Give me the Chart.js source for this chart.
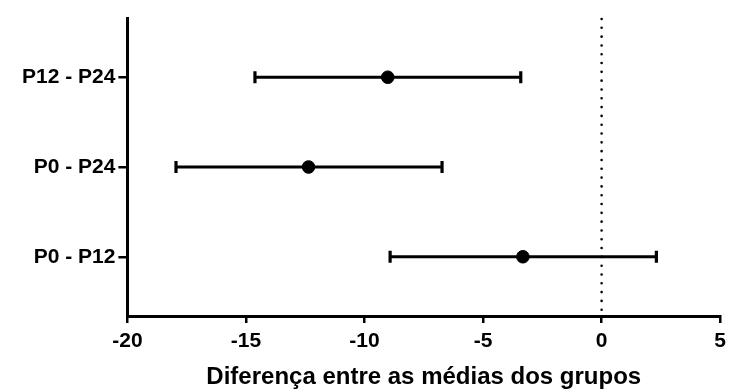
<!DOCTYPE html>
<html>
<head>
<meta charset="utf-8">
<script src="https://cdn.jsdelivr.net/npm/chart.js@4/dist/chart.umd.min.js"></script>
<style>
html,body{margin:0;padding:0;background:#fff;}
#wrap{width:732px;height:392px;}
</style>
</head>
<body>
<div id="wrap"><canvas id="c" width="732" height="392"></canvas></div>
<script>
const categories = ['P0 - P12', 'P0 - P24', 'P12 - P24'];
const means = [-3.32, -12.36, -9.02];
const lower = [-8.92, -17.95, -14.62];
const upper = [2.31, -6.73, -3.41];
const xTicks = [-20, -15, -10, -5, 0, 5];
const xTitle = 'Diferença entre as médias dos grupos';
const refLine = 0;

const FONT = "'Liberation Sans', Arial, sans-serif";

const errorBars = {
  id: 'errorBars',
  beforeDatasetsDraw(chart) {
    const {ctx, chartArea, scales: {x}} = chart;
    const px = x.getPixelForValue(refLine);
    ctx.save();
    ctx.strokeStyle = '#000';
    ctx.lineWidth = 2.6;
    ctx.lineCap = 'round';
    ctx.setLineDash([0.01, 8.8]);
    ctx.beginPath();
    ctx.moveTo(px, chartArea.top + 1);
    ctx.lineTo(px, chartArea.bottom);
    ctx.stroke();
    ctx.restore();
  },
  afterDatasetsDraw(chart) {
    const {ctx, scales: {x, y}} = chart;
    ctx.save();
    ctx.strokeStyle = '#000';
    ctx.lineWidth = 3.2;
    ctx.lineCap = 'butt';
    categories.forEach((c, i) => {
      const py = y.getPixelForValue(i + 1);
      const l = x.getPixelForValue(lower[i]);
      const u = x.getPixelForValue(upper[i]);
      ctx.beginPath();
      ctx.moveTo(l, py); ctx.lineTo(u, py);
      ctx.moveTo(l, py - 6); ctx.lineTo(l, py + 6);
      ctx.moveTo(u, py - 6); ctx.lineTo(u, py + 6);
      ctx.stroke();
    });
    ctx.restore();
  }
};

new Chart(document.getElementById('c'), {
  type: 'scatter',
  data: {
    datasets: [{
      data: means.map((m, i) => ({x: m, y: i + 1})),
      backgroundColor: '#000',
      borderColor: '#000',
      pointRadius: 6.3,
      pointHoverRadius: 6.3
    }]
  },
  options: {
    responsive: false,
    animation: false,
    events: [],
    layout: {padding: {left: 19, right: 4, top: 18, bottom: 0}},
    plugins: {legend: {display: false}, tooltip: {enabled: false}},
    scales: {
      x: {
        type: 'linear',
        min: -20, max: 5,
        afterBuildTicks(s) { s.ticks = xTicks.map(v => ({value: v})); },
        border: {display: true, color: '#000', width: 3},
        grid: {drawOnChartArea: false, drawTicks: true, tickLength: 7, color: '#000', lineWidth: 2.5},
        ticks: {color: '#000', font: {family: FONT, size: 21, weight: 'bold'}, padding: 6, maxRotation: 0},
        title: {display: true, text: xTitle, color: '#000', font: {family: FONT, size: 24, weight: 'bold'}, padding: {top: 3, bottom: 0}}
      },
      y: {
        type: 'linear',
        min: 0.34, max: 3.66,
        afterBuildTicks(s) { s.ticks = categories.map((c, i) => ({value: i + 1})); },
        border: {display: true, color: '#000', width: 3},
        grid: {drawOnChartArea: false, drawTicks: true, tickLength: 9, color: '#000', lineWidth: 2.5},
        ticks: {color: '#000', font: {family: FONT, size: 21, weight: 'bold'}, padding: 3,
          callback: (v) => categories[Math.round(v) - 1] || ''}
      }
    }
  },
  plugins: [errorBars]
});
</script>
</body>
</html>
